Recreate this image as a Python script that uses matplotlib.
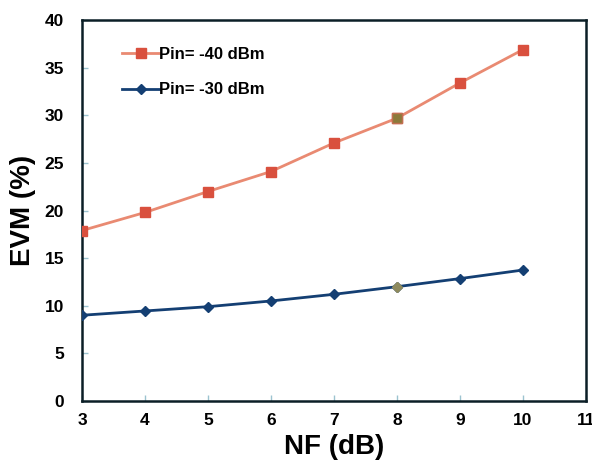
import matplotlib
matplotlib.use("Agg")
import matplotlib.pyplot as plt

nf = [3, 4, 5, 6, 7, 8, 9, 10]
evm_m40 = [17.9, 19.8, 22.0, 24.1, 27.1, 29.7, 33.4, 36.9]
evm_m30 = [9.0, 9.45, 9.9, 10.5, 11.2, 12.0, 12.85, 13.75]
labels = ["Pin= -40 dBm", "Pin= -30 dBm"]
x_ticks = [3, 4, 5, 6, 7, 8, 9, 10, 11]
y_ticks = [0, 5, 10, 15, 20, 25, 30, 35, 40]

plt.rcParams['font.family'] = ['Liberation Sans', 'DejaVu Sans']
plt.rcParams['font.weight'] = 'bold'

fig = plt.figure(figsize=(5.92, 4.70), dpi=100)
ax = fig.add_axes([0.1385, 0.147, 0.851, 0.81])

red_line = '#E98A72'
red_mk = '#D9503E'
blue = '#143F73'

ax.plot(nf, evm_m40, color=red_line, lw=2, marker='s', ms=7.5,
        mfc=red_mk, mec=red_mk, label=labels[0], zorder=3)
ax.plot(nf, evm_m30, color=blue, lw=2, marker='D', ms=5.5,
        mfc=blue, mec=blue, label=labels[1], zorder=3)
# highlighted point at NF = 8
i8 = nf.index(8)
ax.plot([nf[i8]], [evm_m40[i8]], ls='none', marker='s', ms=7.5, mfc='#8C7A3A', mec='#C07050', zorder=4)
ax.plot([nf[i8]], [evm_m30[i8]], ls='none', marker='D', ms=5.5, mfc='#8E8A5E', mec='#8E8A5E', zorder=4)

ax.set_xlim(3, 11)
ax.set_ylim(0, 40)
ax.set_xticks(x_ticks)
ax.set_yticks(y_ticks)
ax.tick_params(direction='in', length=4, color='#9CC3D0', width=1,
               labelsize=12.5)
ax.tick_params(axis='y', pad=13)
ax.tick_params(axis='x', pad=9)
for lab in ax.get_xticklabels() + ax.get_yticklabels():
    lab.set_fontweight('bold')
for s in ax.spines.values():
    s.set_color('#0B1E26')
    s.set_linewidth(1.8)

ax.set_xlabel("NF (dB)", fontsize=20, fontweight='bold', labelpad=4)
ax.set_ylabel("EVM (%)", fontsize=20, fontweight='bold', labelpad=6)

leg = ax.legend(loc='upper left', bbox_to_anchor=(0.05, 0.97), frameon=False,
                prop={'weight': 'bold', 'size': 12}, handlelength=2.2,
                handletextpad=0.0, labelspacing=1.25)

fig.savefig("out.png", dpi=100)
